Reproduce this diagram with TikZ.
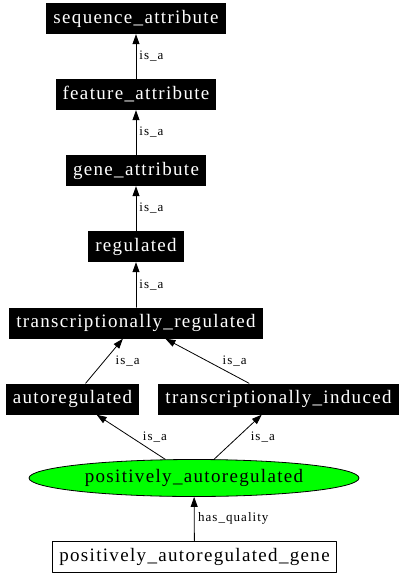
\documentclass[tikz,border=0pt]{standalone}
\usepackage{fontspec}
\setmainfont{Liberation Serif}
\newfontfamily\termfont{Liberation Serif}[LetterSpace=7]
\newfontfamily\relfont{Liberation Serif}[LetterSpace=8]
\usetikzlibrary{arrows.meta,shapes.geometric}

\begin{document}
\begin{tikzpicture}[x=1pt,y=-1pt,>={Triangle[length=10pt,width=7pt]},line cap=round,line join=round]
\useasboundingbox[fill=white] (0,0) rectangle (402,576);
\tikzset{term/.style={fill=black,text=white,font=\termfont\fontsize{19}{21}\selectfont,inner xsep=7pt,inner ysep=0pt,minimum height=31pt},quality/.style={ellipse,draw=black,line width=0.8pt,fill=green,font=\termfont\fontsize{19}{21}\selectfont,inner sep=0pt,minimum width=330pt,minimum height=37pt},feature/.style={draw=black,line width=0.8pt,fill=white,font=\termfont\fontsize{19}{21}\selectfont,inner xsep=7pt,inner ysep=0pt,minimum height=31pt},rel/.style={draw=black,line width=0.8pt,->},lbl/.style={font=\relfont\fontsize{13}{15}\selectfont,inner sep=0pt}}
\node[term] (seq_attr) at (136,18.5) {sequence\_attribute};
\node[term] (feat_attr) at (136,94.5) {feature\_attribute};
\node[term] (gene_attr) at (136,170.5) {gene\_attribute};
\node[term] (regulated) at (136,246.5) {regulated};
\node[term] (trans_reg) at (136,323) {transcriptionally\_regulated};
\node[term] (autoreg) at (72.5,399) {autoregulated};
\node[term] (trans_ind) at (278.5,399) {transcriptionally\_induced};
\node[quality] (pos_autoreg) at (194,478) {positively\_autoregulated};
\node[feature] (pos_gene) at (194.5,556.5) {positively\_autoregulated\_gene};
\draw[rel] (feat_attr) -- node[lbl,right=3pt] {is\_a} (seq_attr);
\draw[rel] (gene_attr) -- node[lbl,right=3pt] {is\_a} (feat_attr);
\draw[rel] (regulated) -- node[lbl,right=3pt] {is\_a} (gene_attr);
\draw[rel] (trans_reg) -- node[lbl,right=3pt] {is\_a} (regulated);
\draw[rel] (autoreg) -- node[lbl,right=11pt] {is\_a} (trans_reg);
\draw[rel] (trans_ind) -- node[lbl,right=15pt] {is\_a} (trans_reg);
\draw[rel] (pos_autoreg) -- node[lbl,right=11.5pt] {is\_a} (autoreg);
\draw[rel] (pos_autoreg) -- node[lbl,right=12.5pt] {is\_a} (trans_ind);
\draw[rel] (pos_gene) -- node[lbl,right=3.5pt] {has\_quality} (pos_autoreg);
\end{tikzpicture}
\end{document}
